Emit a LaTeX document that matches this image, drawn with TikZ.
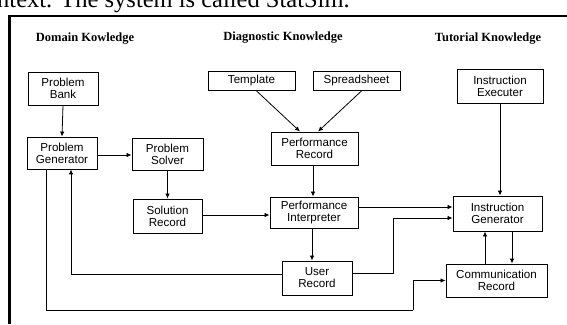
\documentclass[tikz,border=0pt]{standalone}
\usepackage{fontspec}
\setmainfont{Liberation Serif}
\newfontfamily\boxfont{Liberation Sans}
\usetikzlibrary{arrows.meta}
\begin{document}
\begin{tikzpicture}[x=1pt,y=-1pt,
  blk/.style={draw, line width=0.9pt, inner sep=0pt, align=center,
    font=\boxfont\fontsize{11.6}{12}\selectfont},
  hd/.style={font=\bfseries\fontsize{12.5}{14}\selectfont, inner sep=0pt},
  link/.style={line width=0.8pt, -{Latex[length=5pt,width=4.5pt]}},
  wire/.style={line width=0.8pt}]
\useasboundingbox (0,0) rectangle (567,324);
\begin{scope}
  \clip (0,0) rectangle (567,324);
  % running text of the page above the figure
  \node[anchor=base west, inner sep=0pt, font=\fontsize{24.5}{26}\selectfont]
    (txt) at (-3,7.5) {ntext. The system is called StatSim.};
\end{scope}
% frame
\draw[line width=2.6pt] (9.5,324) -- (9.5,16) -- (567,16);
% column headings
\node[hd] (h1) at (85,39) {Domain Kowledge};
\node[hd] (h2) at (283,38) {Diagnostic Knowledge};
\node[hd] (h3) at (488,39) {Tutorial Knowledge};
% blocks
\node[blk, minimum width=70pt, minimum height=33pt] (bank) at (63,88.5) {Problem\\Bank};
\node[blk, minimum width=70pt, minimum height=32pt] (gen) at (62,153) {Problem\\Generator};
\node[blk, minimum width=71pt, minimum height=32pt] (solver) at (167.5,154) {Problem\\Solver};
\node[blk, minimum width=69pt, minimum height=34pt] (solrec) at (167.5,216) {Solution\\Record};
\node[blk, minimum width=87pt, minimum height=19pt] (templ) at (251.5,80.5) {Template};
\node[blk, minimum width=87pt, minimum height=19pt] (spread) at (356.5,80.5) {Spreadsheet};
\node[blk, minimum width=87pt, minimum height=33pt] (perfrec) at (314.5,148.5) {Performance\\Record};
\node[blk, minimum width=88pt, minimum height=31pt] (perfint) at (314,212.5) {Performance\\Interpreter};
\node[blk, minimum width=70pt, minimum height=34pt] (userrec) at (317,278) {User\\Record};
\node[blk, minimum width=86pt, minimum height=34pt] (instexec) at (500,86) {Instruction\\Executer};
\node[blk, minimum width=89pt, minimum height=35pt] (instgen) at (497.5,213.5) {Instruction\\Generator};
\node[blk, minimum width=101pt, minimum height=33pt] (commrec) at (496.5,280.5) {Communication\\Record};
% connectors
\draw[link] (bank.south) -- (gen.north);
\draw[link] ([yshift=-2pt]gen.east) -- ([yshift=-2pt]gen.east -| solver.west);
\draw[link] (solver.south) -- (solver.south |- solrec.north);
\draw[link] ([yshift=1pt]solrec.east) -- ([yshift=1pt]solrec.east -| perfint.west);
\draw[link] ([xshift=4.5pt]templ.south) -- ([xshift=-14.5pt]perfrec.north);
\draw[link] ([xshift=5.5pt]spread.south) -- ([xshift=3.5pt]perfrec.north);
\draw[link] ([xshift=-1.5pt]perfrec.south) -- ([xshift=-1.5pt]perfrec.south |- perfint.north);
\draw[link] ([xshift=-2pt]perfint.south) -- ([xshift=-2pt]perfint.south |- userrec.north);
\draw[link] ([yshift=5.5pt]perfint.east) -- ([yshift=5.5pt]perfint.east -| instgen.west);
\draw[link] ([yshift=5pt]userrec.east) -- ++(41,0) |- ([yshift=-4.5pt]instgen.west);
\draw[link] (instexec.south) -- (instexec.south |- instgen.north);
\draw[link] ([xshift=-11.5pt]commrec.north) -- ([xshift=-11.5pt]commrec.north |- instgen.south);
\draw[link] ([xshift=14.5pt]instgen.south) -- ([xshift=14.5pt]instgen.south |- commrec.north);
\draw[link] ([yshift=4pt]userrec.west) -| ([xshift=9pt]gen.south);
\coordinate (lowturn) at (413,310);
\draw[wire] ([xshift=-16pt]gen.south) |- (lowturn);
\draw[link] (lowturn) |- (commrec.west);
\end{tikzpicture}
\end{document}
